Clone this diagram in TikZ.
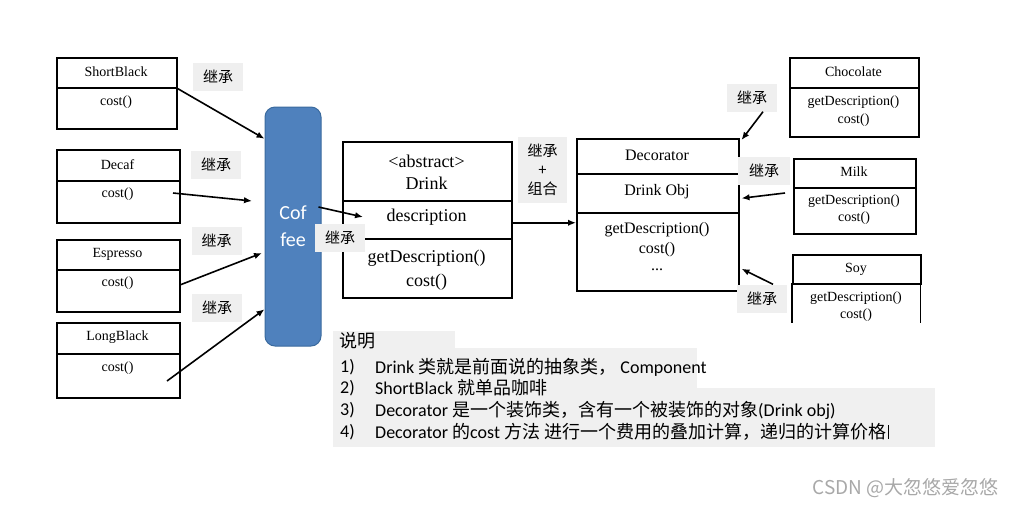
\documentclass[tikz,border=0pt]{standalone}
\usepackage{fontspec}
\setmainfont{Liberation Serif}
\newfontfamily\cjk{Noto Sans CJK SC}
\newfontfamily\calfont{Carlito}
\usetikzlibrary{arrows.meta}
\definecolor{lblgray}{HTML}{EFEFEF}
\definecolor{notegray}{HTML}{F0F0F0}
\definecolor{cofblue}{HTML}{4F81BD}
\definecolor{cofedge}{HTML}{3A6A9E}
\definecolor{wmgray}{HTML}{A8A8A8}
\newcommand{\zh}[1]{{\cjk #1}}
\begin{document}
\begin{tikzpicture}[x=1pt,y=-1pt,
  cls/.style={draw, line width=1.5pt, inner sep=0pt, anchor=north west},
  sm/.style={inner sep=0pt, font=\fontsize{14}{16}\selectfont},
  md/.style={inner sep=0pt, font=\fontsize{16}{18}\selectfont},
  lg/.style={inner sep=0pt, font=\fontsize{18}{20}\selectfont},
  lbl/.style={fill=lblgray, inner sep=0pt, minimum width=50pt, minimum height=28pt, font=\cjk\fontsize{15}{17}\selectfont},
  note/.style={inner sep=0pt, anchor=west, font=\calfont\fontsize{18}{20}\selectfont},
  arr/.style={line width=1.6pt, -{Latex[length=8pt,width=6.5pt]}}
]
\useasboundingbox (0,0) rectangle (1014,507);

% ---------- left concrete drinks ----------
\node[cls, minimum width=120pt, minimum height=30pt] (sbH) at (56,57) {};
\node[cls, minimum width=120pt, minimum height=41pt] (sbB) at (56,87) {};
\node[sm] (sbT) at (116,72) {ShortBlack};
\node[sm] (sbC) at (116,102) {cost()};

\node[cls, minimum width=123pt, minimum height=31pt] (dcH) at (56,149) {};
\node[cls, minimum width=123pt, minimum height=42pt] (dcB) at (56,180) {};
\node[sm] (dcT) at (117.5,165) {Decaf};
\node[sm] (dcC) at (117.5,194) {cost()};

\node[cls, minimum width=123pt, minimum height=30pt] (esH) at (56,239) {};
\node[cls, minimum width=123pt, minimum height=42pt] (esB) at (56,269) {};
\node[sm] (esT) at (117.5,254) {Espresso};
\node[sm] (esC) at (117.5,283) {cost()};

\node[cls, minimum width=123pt, minimum height=31pt] (lbH) at (56,322) {};
\node[cls, minimum width=123pt, minimum height=44pt] (lbB) at (56,353) {};
\node[sm] (lbT) at (117.5,337) {LongBlack};
\node[sm] (lbC) at (117.5,368) {cost()};

% ---------- Coffee ----------
\node[fill=cofblue, draw=cofedge, line width=1pt, rounded corners=10pt,
      minimum width=56pt, minimum height=239pt, inner sep=0pt,
      text=white, align=center, font=\calfont\fontsize{20}{27}\selectfont]
      (coffee) at (293,226.5) {Cof\\fee};

% ---------- Drink ----------
\node[cls, minimum width=169pt, minimum height=59pt] (drH) at (342,141) {};
\node[cls, minimum width=169pt, minimum height=38pt] (drD) at (342,200) {};
\node[cls, minimum width=169pt, minimum height=59pt] (drM) at (342,238) {};
\node[lg] (drA) at (426.5,161) {<abstract>};
\node[lg] (drN) at (426.5,183) {Drink};
\node[lg] (drDe) at (426.5,217) {description};
\node[lg] (drG) at (426.5,258) {getDescription()};
\node[lg] (drC) at (426.5,282) {cost()};

% ---------- Decorator ----------
\node[cls, minimum width=162pt, minimum height=35pt] (deH) at (576,138) {};
\node[cls, minimum width=162pt, minimum height=39pt] (deO) at (576,173) {};
\node[cls, minimum width=162pt, minimum height=78pt] (deM) at (576,212) {};
\node[md] (deT) at (657,155) {Decorator};
\node[md] (deOT) at (657,192) {Drink Obj};
\node[md] (deG) at (657,230) {getDescription()};
\node[md] (deC) at (657,250) {cost()};
\node[md] (deD) at (657,270) {...};

% ---------- right decorators ----------
\node[cls, minimum width=129pt, minimum height=30pt] (chH) at (789,57) {};
\node[cls, minimum width=129pt, minimum height=49pt] (chB) at (789,87) {};
\node[sm] (chT) at (853.5,72) {Chocolate};
\node[sm] (chG) at (853.5,102) {getDescription()};
\node[sm] (chC) at (853.5,120) {cost()};

\node[cls, minimum width=122pt, minimum height=29pt] (mkH) at (793,158) {};
\node[cls, minimum width=122pt, minimum height=46pt] (mkB) at (793,187) {};
\node[sm] (mkT) at (854,172) {Milk};
\node[sm] (mkG) at (854,201) {getDescription()};
\node[sm] (mkC) at (854,218) {cost()};

\node[cls, minimum width=128pt, minimum height=29pt] (syH) at (792,254) {};
\node[inner sep=0pt, anchor=north west, minimum width=128pt, minimum height=40pt] (syB) at (792,283) {};
\draw[line width=1.5pt] (syB.north west) -- (syB.south west) (syB.north east) -- (syB.south east);
\node[sm] (syT) at (856,269) {Soy};
\node[sm] (syG) at (856,298) {getDescription()};
\node[sm] (syC) at (856,315) {cost()};

% ---------- labels ----------
\node[lbl] (L1) at (218,77) {继承};
\node[lbl] (L2) at (216,165) {继承};
\node[lbl] (L3) at (216.5,241) {继承};
\node[lbl] (L4) at (217,307.5) {继承};
\node[lbl] (L5) at (340,238) {继承};
\node[lbl, minimum width=49pt, minimum height=66pt, align=center,
      font=\cjk\fontsize{15}{19}\selectfont] (L6) at (542.5,170) {继承\\+\\组合};
\node[lbl] (L7) at (752,97.5) {继承};
\node[lbl, minimum width=52pt] (L8) at (764,171) {继承};
\node[lbl] (L9) at (762,298.5) {继承};

% ---------- arrows ----------
\coordinate (a2s) at (173,193);
\coordinate (a2e) at (252,201);
\coordinate (a3e) at (262,253);
\coordinate (a4s) at (167,381);
\coordinate (a5e) at (363,217);
\coordinate (a8s) at (785,193);

\draw[arr] (sbH.south east) -- (coffee.108.3);
\draw[arr] (a2s) -- (a2e);
\draw[arr] ([yshift=6pt]esB.east) -- (a3e);
\draw[arr] (a4s) -- (coffee.251.7);
\draw[arr] ([xshift=-3pt,yshift=19.5pt]coffee.east) -- (a5e);
\draw[arr] ([yshift=-3pt]drD.east) -- ([yshift=-3pt]drD.east -| deM.west);
\draw[arr] ([xshift=11pt]L7.south) -- ([xshift=2pt,yshift=-2pt]deH.north east);
\draw[arr] (a8s) -- ([xshift=2pt,yshift=-5pt]deO.east);
\draw[arr] ([xshift=11pt]L9.north) -- ([xshift=2pt,yshift=-17pt]deM.east);

% ---------- notes ----------
\fill[notegray] (333,331) rectangle (455,348);
\fill[notegray] (333,348) rectangle (697,388);
\fill[notegray] (333,388) rectangle (935,447);
\node[note, font=\cjk\fontsize{18}{20}\selectfont] (n0) at (339,341) {说明};
\node[note] (n1) at (340,367) {1)};
\node[note] (n2) at (340,388) {2)};
\node[note] (n3) at (340,410) {3)};
\node[note] (n4) at (340,432) {4)};
\node[note] (t1) at (375,367) {Drink \zh{类就是前面说的抽象类，} Component};
\node[note] (t2) at (375,388) {ShortBlack \zh{就单品咖啡}};
\node[note] (t3) at (375,410) {Decorator \zh{是一个装饰类，含有一个被装饰的对象}(Drink obj)};
\node[note] (t4) at (375,432) {Decorator \zh{的}cost \zh{方法 进行一个费用的叠加计算，递归的计算价格}};
\draw[line width=1pt] ([xshift=2pt,yshift=7pt]t4.east) -- ([xshift=2pt,yshift=-7pt]t4.east);

% ---------- watermark ----------
\node[inner sep=0pt, anchor=east, text=wmgray, font=\cjk\fontsize{19}{21}\selectfont] (wm) at (999,488) {CSDN @大忽悠爱忽悠};
\end{tikzpicture}
\end{document}
